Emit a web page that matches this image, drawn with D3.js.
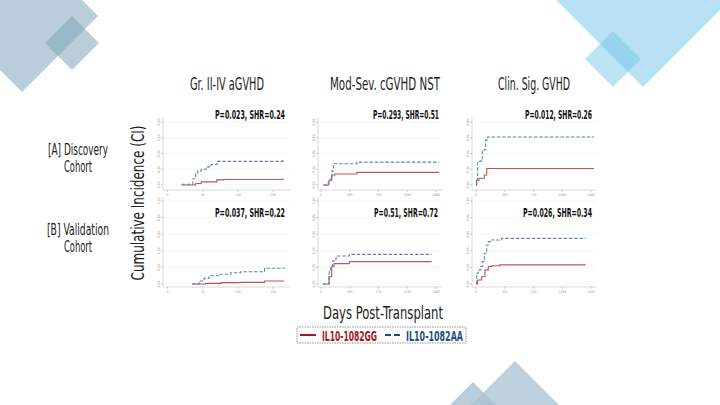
<!DOCTYPE html>
<html>
<head>
<meta charset="utf-8">
<script src="https://cdn.jsdelivr.net/npm/d3@7"></script>
<style>
  body { margin: 0; background: #fff; }
  text { font-family: "Liberation Sans Narrow", "DejaVu Sans Condensed", sans-serif; }
</style>
</head>
<body>
<script>
// Chart data (days, cumulative incidence)
var outcomes = ["Gr. II-IV aGVHD", "Mod-Sev. cGVHD NST", "Clin. Sig. GVHD"];
var cohorts = [["[A] Discovery", "Cohort"], ["[B] Validation", "Cohort"]];
var statLabels = [
  ["P=0.023, SHR=0.24", "P=0.293, SHR=0.51", "P=0.012, SHR=0.26"],
  ["P=0.037, SHR=0.22", "P=0.51, SHR=0.72", "P=0.026, SHR=0.34"]
];
var seriesNames = ["IL10-1082GG", "IL10-1082AA"];

// discovery cohort
var discAgvhdGG = [[20,0],[36,0],[40,0.02],[48,0.04],[70,0.065],[80,0.07],[162,0.07],[164,0.085]];
var discAgvhdAA = [[20,0.01],[34,0.01],[36,0.08],[40,0.15],[43,0.18],[48,0.2],[55,0.23],[62,0.26],[70,0.3],[162,0.3],[164,0.34]];
var discCgvhdGG = [[30,0],[80,0],[100,0.06],[136,0.127],[178,0.14],[454,0.14],[455,0.16],[1500,0.16]];
var discCgvhdAA = [[30,0],[80,0],[93,0.06],[123,0.1],[140,0.18],[157,0.27],[454,0.27],[455,0.29],[1500,0.29]];
var discClinGG = [[0,0],[8,0.06],[38,0.085],[80,0.085],[105,0.127],[136,0.21],[1500,0.21]];
var discClinAA = [[0,0],[8,0.06],[21,0.3],[64,0.32],[80,0.44],[105,0.45],[123,0.57],[148,0.61],[1500,0.61]];
// validation cohort
var valAgvhdGG = [[35,0],[54,0.008],[76,0.016],[104,0.02],[138,0.036],[166,0.036]];
var valAgvhdAA = [[35,0],[42,0],[45,0.036],[50,0.048],[52,0.068],[59,0.1],[73,0.117],[90,0.136],[104,0.148],[128,0.148],[138,0.189],[166,0.196]];
var valCgvhdGG = [[22,0],[93,0],[100,0.088],[136,0.21],[165,0.245],[347,0.245],[360,0.27],[1405,0.27]];
var valCgvhdAA = [[22,0],[93,0],[105,0.148],[123,0.21],[148,0.277],[190,0.317],[207,0.337],[347,0.337],[360,0.357],[1405,0.357]];
var valClinGG = [[0,0],[21,0.048],[72,0.088],[114,0.17],[156,0.21],[200,0.22],[300,0.23],[1392,0.23]];
var valClinAA = [[0,0.008],[9,0.13],[29,0.17],[63,0.21],[80,0.27],[105,0.37],[136,0.47],[156,0.51],[190,0.53],[305,0.53],[326,0.55],[1392,0.55]];

var xTicksShort = [0, 50, 100, 150];
var xTicksLong = [0, 365, 730, 1095, 1460];
var yTicksTop = [0, 0.2, 0.4, 0.6, 0.8];
var yTicksBottom = [0, 0.2, 0.4, 0.6, 0.8, 1.0];

var panelData = [
  [[discAgvhdGG, discAgvhdAA], [discCgvhdGG, discCgvhdAA], [discClinGG, discClinAA]],
  [[valAgvhdGG, valAgvhdAA], [valCgvhdGG, valCgvhdAA], [valClinGG, valClinAA]]
];

var svgWidth = 720, svgHeight = 405;
var red = "#c0555a", blue = "#5a86b6";
var redText = "#a3181c", blueText = "#1f4f7f";

var svg = d3.select("body").append("svg")
  .attr("width", svgWidth)
  .attr("height", svgHeight);

// background decorations
function diamond(cx, cy, r) {
  return "M" + (cx - r) + "," + cy + "L" + cx + "," + (cy - r) + "L" + (cx + r) + "," + cy + "L" + cx + "," + (cy + r) + "Z";
}
var deco = svg.append("g");
deco.append("path").attr("d", diamond(22, 16, 76)).attr("fill", "#a7c2d1").attr("opacity", 0.8);
deco.append("path").attr("d", diamond(72, 43, 27)).attr("fill", "#7fa5ba").attr("opacity", 0.55);
deco.append("path").attr("d", diamond(643, -35, 122)).attr("fill", "#a6dbf0").attr("opacity", 0.8);
deco.append("path").attr("d", diamond(613, 59, 28)).attr("fill", "#6cc3e6").attr("opacity", 0.45);
deco.append("path").attr("d", "M450,405L473,382L496,405Z").attr("fill", "#a7c2d1").attr("opacity", 0.8);
deco.append("path").attr("d", "M471,405L515,361L559,405Z").attr("fill", "#a7c2d1").attr("opacity", 0.75);

// panel geometry
var cols = [
  { domain: [0, 150], range: [167.5, 273], axisX: 163, right: 290, ticks: xTicksShort },
  { domain: [0, 1460], range: [321, 436], axisX: 318, right: 442, ticks: xTicksLong },
  { domain: [0, 1460], range: [476, 591], axisX: 472, right: 597, ticks: xTicksLong }
];
var rows = [
  { domain: [0, 0.8], range: [185, 122], axisY: 190, top: 117, ticks: yTicksTop, statY: 119 },
  { domain: [0, 1], range: [284, 201], axisY: 287, top: 197, ticks: yTicksBottom, statY: 217 }
];
var statX = [[215, 373, 525], [215, 374, 523]];
var statW = [[70, 66, 67], [70, 64, 69]];

rows.forEach(function(row, ri) {
  cols.forEach(function(col, ci) {
    var x = d3.scaleLinear().domain(col.domain).range(col.range);
    var y = d3.scaleLinear().domain(row.domain).range(row.range);
    var g = svg.append("g");

    // gridlines
    g.selectAll(".grid").data(row.ticks).enter().append("line")
      .attr("x1", col.axisX).attr("x2", col.right)
      .attr("y1", d => y(d)).attr("y2", d => y(d))
      .attr("stroke", "#eeeeee").attr("stroke-width", 0.6);

    // axes
    g.append("line").attr("x1", col.axisX).attr("x2", col.right)
      .attr("y1", row.axisY).attr("y2", row.axisY)
      .attr("stroke", "#c8c8c8").attr("stroke-width", 0.7);
    g.append("line").attr("x1", col.axisX).attr("x2", col.axisX)
      .attr("y1", row.top).attr("y2", row.axisY)
      .attr("stroke", "#c8c8c8").attr("stroke-width", 0.7);

    g.selectAll(".yt").data(row.ticks).enter().append("line")
      .attr("x1", col.axisX - 2).attr("x2", col.axisX)
      .attr("y1", d => y(d)).attr("y2", d => y(d))
      .attr("stroke", "#b0b0b0").attr("stroke-width", 0.6);
    g.selectAll(".yl").data(row.ticks).enter().append("text")
      .attr("transform", d => "translate(" + (col.axisX - 3.5) + "," + y(d) + ") rotate(-90)")
      .attr("text-anchor", "middle")
      .attr("font-size", 3.5).attr("fill", "#999")
      .text(d => d.toFixed(2));

    g.selectAll(".xt").data(col.ticks).enter().append("line")
      .attr("x1", d => x(d)).attr("x2", d => x(d))
      .attr("y1", row.axisY).attr("y2", row.axisY + 2)
      .attr("stroke", "#b0b0b0").attr("stroke-width", 0.6);
    g.selectAll(".xl").data(col.ticks).enter().append("text")
      .attr("x", d => x(d)).attr("y", row.axisY + 6)
      .attr("text-anchor", "middle")
      .attr("font-size", 3.5).attr("fill", "#999")
      .text(d => d);

    // curves
    var line = d3.line().x(d => x(d[0])).y(d => y(d[1])).curve(d3.curveStepAfter);
    var pair = panelData[ri][ci];
    g.append("path").attr("d", line(pair[0]))
      .attr("fill", "none").attr("stroke", red).attr("stroke-width", 1.1);
    g.append("path").attr("d", line(pair[1]))
      .attr("fill", "none").attr("stroke", blue).attr("stroke-width", 1.1)
      .attr("stroke-dasharray", "3.5,1.8");

    // statistics label
    g.append("text")
      .attr("x", statX[ri][ci]).attr("y", row.statY)
      .attr("font-size", 13).attr("font-weight", "bold").attr("fill", "#111")
      .attr("textLength", statW[ri][ci]).attr("lengthAdjust", "spacingAndGlyphs")
      .text(statLabels[ri][ci]);
  });
});

// column titles
var titleX = [227, 385, 534], titleW = [74, 110, 72];
svg.selectAll(".title").data(outcomes).enter().append("text")
  .attr("x", (d, i) => titleX[i] - titleW[i] / 2).attr("y", 90)
  .attr("font-size", 17).attr("fill", "#222")
  .attr("textLength", (d, i) => titleW[i]).attr("lengthAdjust", "spacingAndGlyphs")
  .text(d => d);

// row labels
var rowLabelY = [150, 230];
cohorts.forEach(function(lines, i) {
  svg.append("text").attr("x", 78).attr("y", rowLabelY[i] + 5)
    .attr("text-anchor", "middle").attr("font-size", 15).attr("fill", "#222")
    .attr("textLength", i === 0 ? 60 : 62).attr("lengthAdjust", "spacingAndGlyphs")
    .text(lines[0]);
  svg.append("text").attr("x", 78).attr("y", rowLabelY[i] + 22)
    .attr("text-anchor", "middle").attr("font-size", 15).attr("fill", "#222")
    .attr("textLength", 28).attr("lengthAdjust", "spacingAndGlyphs")
    .text(lines[1]);
});

// axis titles
svg.append("text")
  .attr("transform", "translate(144,203) rotate(-90)")
  .attr("text-anchor", "middle").attr("font-size", 18).attr("fill", "#222")
  .attr("textLength", 155).attr("lengthAdjust", "spacingAndGlyphs")
  .text("Cumulative Incidence (CI)");
svg.append("text")
  .attr("x", 383).attr("y", 319)
  .attr("text-anchor", "middle").attr("font-size", 18).attr("fill", "#222")
  .attr("textLength", 120).attr("lengthAdjust", "spacingAndGlyphs")
  .text("Days Post-Transplant");

// legend
var legend = svg.append("g");
legend.append("rect").attr("x", 297).attr("y", 327).attr("width", 169).attr("height", 16)
  .attr("fill", "#fff").attr("stroke", "#777").attr("stroke-width", 0.8)
  .attr("stroke-dasharray", "1.5,1");
legend.append("line").attr("x1", 300).attr("x2", 316).attr("y1", 335).attr("y2", 335)
  .attr("stroke", redText).attr("stroke-width", 2);
legend.append("line").attr("x1", 385).attr("x2", 403).attr("y1", 335).attr("y2", 335)
  .attr("stroke", blueText).attr("stroke-width", 2).attr("stroke-dasharray", "6,3");
legend.append("text").attr("x", 322).attr("y", 340.5)
  .attr("font-size", 14).attr("font-weight", "bold").attr("fill", redText)
  .attr("textLength", 55).attr("lengthAdjust", "spacingAndGlyphs")
  .text(seriesNames[0]);
legend.append("text").attr("x", 406).attr("y", 340.5)
  .attr("font-size", 14).attr("font-weight", "bold").attr("fill", blueText)
  .attr("textLength", 57).attr("lengthAdjust", "spacingAndGlyphs")
  .text(seriesNames[1]);
</script>
</body>
</html>
